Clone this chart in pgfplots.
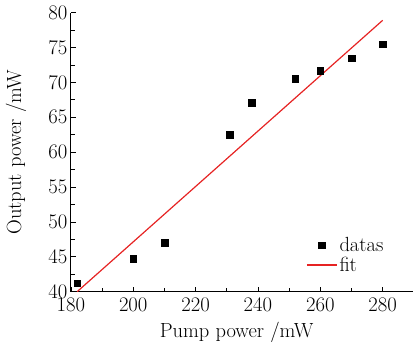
\documentclass[border=0pt]{standalone}
\usepackage{pgfplots}
\pgfplotsset{compat=1.18}
\definecolor{fitred}{RGB}{230,35,35}
\newcommand\fs{\fontsize{20.5}{23}\selectfont}
\begin{document}
\begin{tikzpicture}
\begin{axis}[
  scale only axis,
  width=342pt, height=279.3pt,
  xmin=180, xmax=289.6, ymin=40, ymax=80,
  axis x line*=bottom, axis y line*=left,
  axis line style={line width=0.9pt,-},
  xtick={180,200,...,280}, ytick={40,45,...,80},
  minor x tick num=1, minor y tick num=1,
  tick align=inside,
  major tick length=5pt, minor tick length=4pt,
  tick style={line width=0.8pt, black},
  every tick label/.append style={font=\fs},
  xticklabel style={yshift=-3pt},
  label style={font=\fs},
  xlabel={Pump power /mW},
  ylabel={Output power /mW},
  xlabel style={at={(axis description cs:0.485,-0.165)}, anchor=base},
  ylabel style={at={(axis description cs:-0.161,0.5)}, anchor=center},
  legend style={draw=none, fill=none, font=\fs,
    at={(axis cs:254.5,48.4)}, anchor=north west, row sep=0pt},
  legend cell align=left,
]
\addplot[only marks, mark=square*, mark size=3.3pt, black,
  legend image code/.code={\draw[mark=square*, mark size=3.3pt, black] plot coordinates {(15pt,0pt)};}] coordinates {
(182,41.2) (200,44.7) (210,47.0) (231,62.5) (238,67.1)
(252,70.5) (260,71.7) (270,73.5) (280,75.5)};
\addlegendentry{datas}
\addplot[fitred, line width=1.2pt,
  legend image code/.code={\draw[fitred, line width=1.2pt] (0pt,0pt) -- (30pt,0pt);}] coordinates {(182,40.0) (280,78.9)};
\addlegendentry{fit}
\coordinate (O) at (rel axis cs:0,0);
\coordinate (T) at (rel axis cs:1,1);
\end{axis}
\path (O) ++(-71pt,-55pt);
\path (T) ++(0,12.7pt);
\end{tikzpicture}
\end{document}
